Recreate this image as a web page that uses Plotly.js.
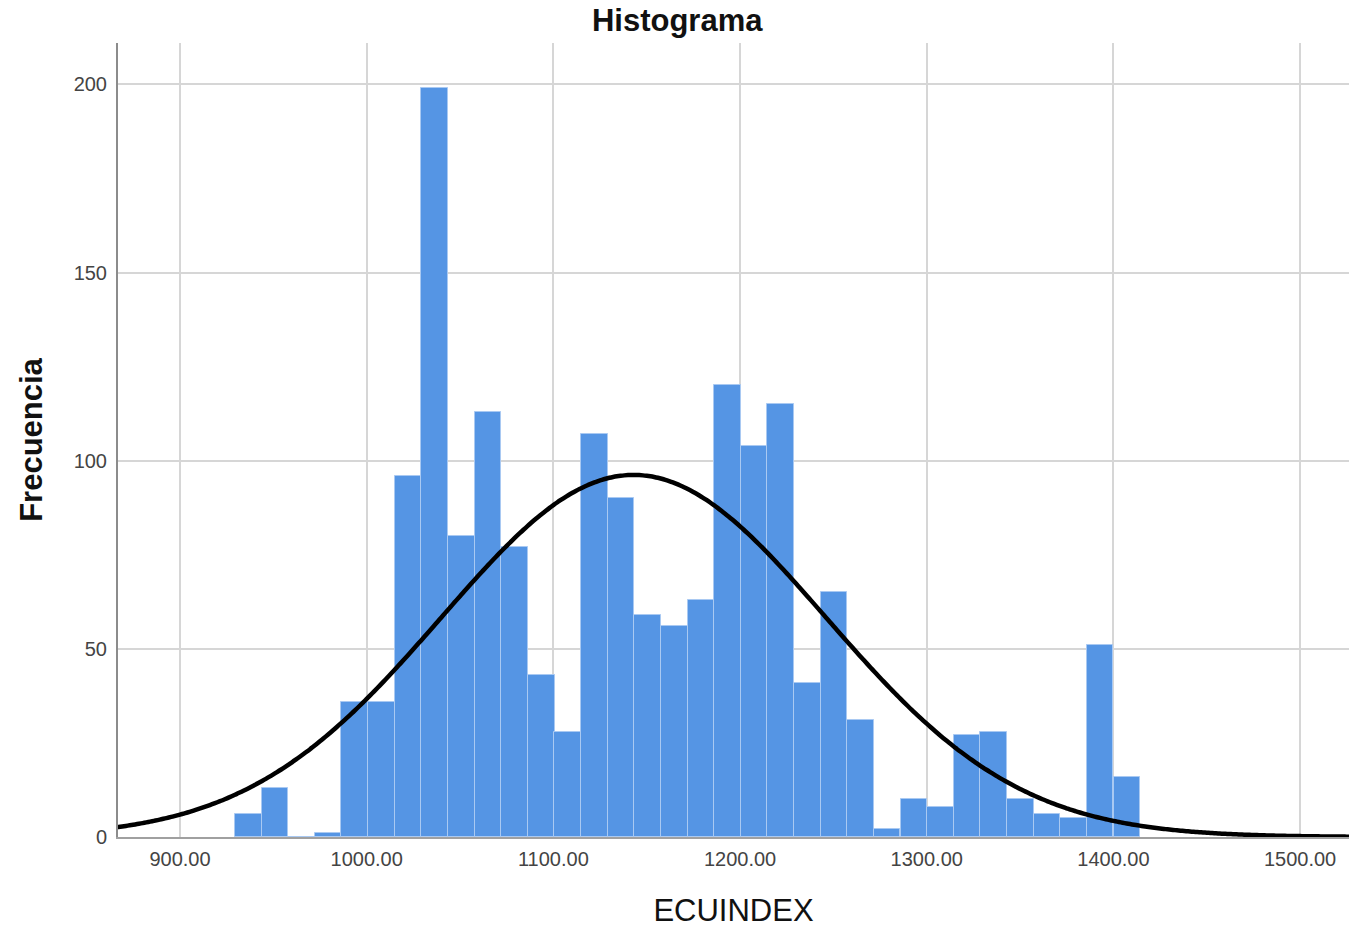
<!DOCTYPE html>
<html>
<head>
<meta charset="utf-8">
<script src="https://cdn.plot.ly/plotly-3.0.1.min.js"></script>
<style>
  html, body { margin: 0; padding: 0; background: #ffffff; }
  #chart { width: 1349px; height: 928px; }
</style>
</head>
<body>
<div id="chart"></div>
<script>
// Bin centers (ECUINDEX)
var binCenters = [936.6, 950.9, 965.1, 979.4, 993.6, 1007.9, 1022.2, 1036.4, 1050.7, 1064.9,
                  1079.2, 1093.5, 1107.7, 1122.0, 1136.2, 1150.5, 1164.8, 1179.0, 1193.3, 1207.5,
                  1221.8, 1236.1, 1250.3, 1264.6, 1278.8, 1293.1, 1307.4, 1321.6, 1335.9, 1350.1,
                  1364.4, 1378.7, 1392.9, 1407.2];
// Frequencies
var frecuencias = [6, 13, 0, 1, 36, 36, 96, 199, 80, 113,
                   77, 43, 28, 107, 90, 59, 56, 63, 120, 104,
                   115, 41, 65, 31, 2, 10, 8, 27, 28, 10,
                   6, 5, 51, 16];
var binWidth = 14.26;
// Normal curve parameters (fitted)
var media = 1143;
var desv = 103;
var xTicks = [900, 1000, 1100, 1200, 1300, 1400, 1500];
var xTickLabels = ["900.00", "1000.00", "1100.00", "1200.00", "1300.00", "1400.00", "1500.00"];
var yTicks = [0, 50, 100, 150, 200];

var N = frecuencias.reduce(function (a, b) { return a + b; }, 0);
var curveX = [], curveY = [];
for (var x = 860; x <= 1530; x += 2) {
  curveX.push(x);
  var z = (x - media) / desv;
  curveY.push(N * binWidth / (desv * Math.sqrt(2 * Math.PI)) * Math.exp(-0.5 * z * z));
}

var bars = {
  type: 'bar',
  x: binCenters,
  y: frecuencias,
  width: binWidth,
  marker: { color: '#5595e4', line: { color: '#a9c9f2', width: 1 } },
  hoverinfo: 'x+y',
  showlegend: false
};
var curve = {
  type: 'scatter',
  mode: 'lines',
  x: curveX,
  y: curveY,
  line: { color: '#000000', width: 4.5, shape: 'spline' },
  hoverinfo: 'skip',
  showlegend: false
};

var layout = {
  width: 1349,
  height: 928,
  margin: { l: 118, r: 0, t: 43, b: 91 },
  paper_bgcolor: '#ffffff',
  plot_bgcolor: '#ffffff',
  font: { family: 'Liberation Sans, Arial, sans-serif', color: '#333333' },
  title: {
    text: '<b>Histograma</b>',
    font: { size: 31, color: '#111111' },
    x: 0.502, xref: 'container', xanchor: 'center',
    y: 0.978, yref: 'container', yanchor: 'middle'
  },
  bargap: 0,
  xaxis: {
    range: [866.8, 1526.2],
    tickvals: xTicks,
    ticktext: xTickLabels,
    tickfont: { size: 20, color: '#444444' },
    ticks: '',
    ticklabelstandoff: 3,
    showgrid: true,
    gridcolor: '#d6d6d6',
    gridwidth: 2,
    showline: true,
    linecolor: '#a0a0a0',
    linewidth: 2,
    zeroline: false,
    title: { text: 'ECUINDEX', font: { size: 31, color: '#111111' }, standoff: 34 }
  },
  yaxis: {
    range: [0, 211],
    tickvals: yTicks,
    tickfont: { size: 20, color: '#444444' },
    ticks: '',
    ticklabelstandoff: 5,
    showgrid: true,
    gridcolor: '#d6d6d6',
    gridwidth: 2,
    showline: true,
    linecolor: '#8c8c8c',
    linewidth: 2,
    zeroline: false,
    title: { text: '<b>Frecuencia</b>', font: { size: 31, color: '#111111' }, standoff: 22 }
  }
};

Plotly.newPlot('chart', [bars, curve], layout, { displayModeBar: false, staticPlot: false });
</script>
</body>
</html>
